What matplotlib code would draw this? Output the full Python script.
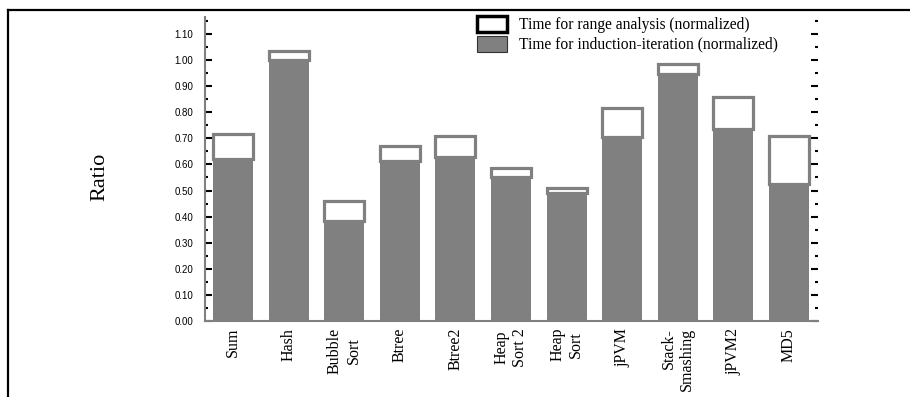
import matplotlib
matplotlib.use("Agg")
import matplotlib.pyplot as plt
from matplotlib.patches import Patch
from matplotlib.lines import Line2D
from matplotlib.ticker import MultipleLocator, FormatStrFormatter

categories = ["Sum", "Hash", "Bubble\nSort", "Btree", "Btree2", "Heap\nSort 2",
              "Heap\nSort", "jPVM", "Stack-\nSmashing", "jPVM2", "MD5"]
induction = [0.62, 1.00, 0.385, 0.615, 0.63, 0.55, 0.49, 0.705, 0.945, 0.735, 0.525]
total = [0.715, 1.035, 0.46, 0.67, 0.71, 0.585, 0.51, 0.815, 0.985, 0.86, 0.71]
range_part = [t - i for t, i in zip(total, induction)]
legend_labels = ["Time for range analysis (normalized)",
                 "Time for induction-iteration (normalized)"]

GRAY = "#808080"
fig = plt.figure(figsize=(9.10, 3.97), dpi=100)
ax = fig.add_axes([205/910, 1-321/397, (818-205)/910, (321-17)/397])

x = list(range(len(categories)))
w = 0.72
ax.bar(x, induction, width=w, color=GRAY, edgecolor="none", zorder=2)
ax.bar(x, range_part, bottom=induction, width=w, facecolor="white",
       edgecolor=GRAY, linewidth=2.3, zorder=3)

ax.set_xlim(-0.504, 10.52)
ax.set_ylim(0, 1.165)
ax.yaxis.set_major_locator(MultipleLocator(0.1))
ax.yaxis.set_minor_locator(MultipleLocator(0.05))
ax.yaxis.set_major_formatter(FormatStrFormatter("%.2f"))
ax.set_xticks(x)
ax.set_xticklabels(categories, rotation=90, va="top", ha="center",
                   family="Liberation Serif", fontsize=11.5)
for lbl in ax.get_xticklabels():
    if lbl.get_text().startswith("Stack"):
        lbl.set_multialignment("right")
    else:
        lbl.set_multialignment("center")
ax.tick_params(axis="x", length=0, pad=5)
ax.tick_params(axis="y", which="both", direction="in", left=True, right=True,
               labelright=False, color="black")
ax.tick_params(axis="y", which="major", length=5, width=1.5, pad=8.5)
ax.tick_params(axis="y", which="minor", length=2.5, width=1.5)
for lbl in ax.get_yticklabels():
    lbl.set_family("Liberation Sans")
    lbl.set_fontsize(7)
for s in ["top", "right"]:
    ax.spines[s].set_visible(False)
for s in ["left", "bottom"]:
    ax.spines[s].set_color(GRAY)
    ax.spines[s].set_linewidth(1.5)

fig.text(100/910, 1-177/397, "Ratio", rotation=90, ha="center", va="center",
         family="Liberation Serif", fontsize=16)

handles = [Patch(facecolor="white", edgecolor="black", linewidth=2.5),
           Patch(facecolor=GRAY, edgecolor="#333333", linewidth=0.8)]
fig.legend(handles, legend_labels, loc="upper left",
           bbox_to_anchor=(477/910, 1-16/397), frameon=False,
           prop={"family": "Liberation Serif", "size": 11.2},
           handlelength=1.9, handleheight=1.2, handletextpad=0.8,
           labelspacing=0.15, borderpad=0, borderaxespad=0)

fig.add_artist(Line2D([8/910, 1.0], [1-9.5/397, 1-9.5/397], color="black",
                      linewidth=1.6, transform=fig.transFigure))
fig.add_artist(Line2D([8/910, 8/910], [1-9.5/397, 0], color="black",
                      linewidth=1.6, transform=fig.transFigure))

fig.savefig("out.png", dpi=100)
